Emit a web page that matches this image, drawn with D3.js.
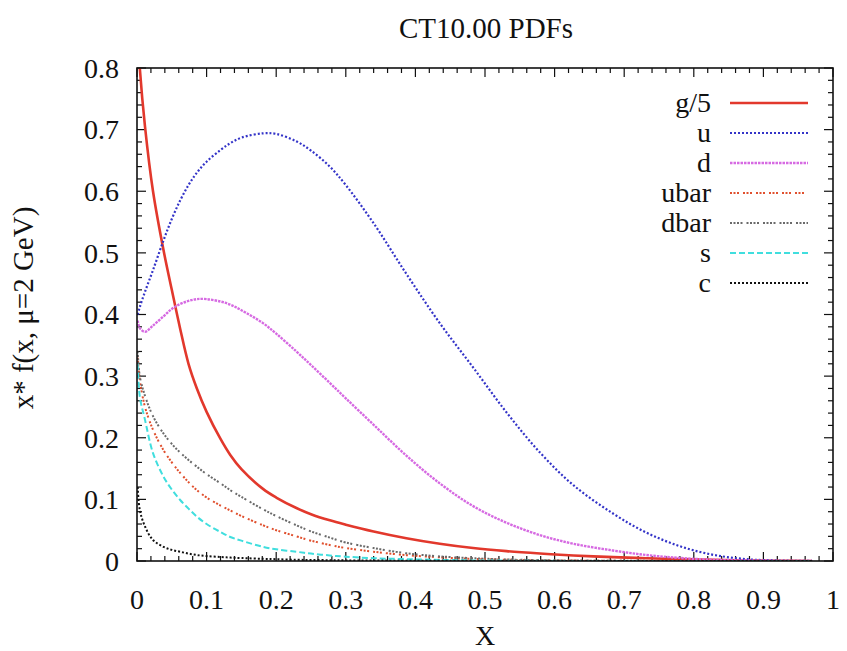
<!DOCTYPE html>
<html>
<head>
<meta charset="utf-8">
<script src="https://cdn.jsdelivr.net/npm/d3@7"></script>
<style>
  body { margin: 0; background: #fff; }
  text { font-family: "Liberation Serif", "DejaVu Serif", serif; fill: #111; }
</style>
</head>
<body>
<div id="chart"></div>
<script>
var xGrid = [0.001, 0.004, 0.0115, 0.023, 0.038, 0.05, 0.062, 0.074, 0.086, 0.1, 0.12, 0.134, 0.15, 0.181, 0.2, 0.229, 0.25, 0.277, 0.3, 0.34, 0.387, 0.435, 0.483, 0.531, 0.579, 0.627, 0.684, 0.732, 0.78, 0.828, 0.876, 0.92, 0.97];

var gluon5 = [0.86, 0.80, 0.705, 0.60, 0.505, 0.44, 0.377, 0.320, 0.280, 0.242, 0.198, 0.172, 0.149, 0.117, 0.103, 0.086, 0.076, 0.066, 0.059, 0.048, 0.037, 0.028, 0.021, 0.016, 0.0122, 0.009, 0.0063, 0.0045, 0.003, 0.0018, 0.0009, 0.0004, 0.0001];
var uQuark = [0.40, 0.412, 0.437, 0.472, 0.520, 0.555, 0.585, 0.610, 0.630, 0.648, 0.667, 0.678, 0.687, 0.694, 0.693, 0.681, 0.666, 0.640, 0.610, 0.548, 0.466, 0.386, 0.314, 0.241, 0.176, 0.123, 0.077, 0.046, 0.024, 0.010, 0.003, 0.0008, 0.0001];
var dQuark = [0.39, 0.378, 0.372, 0.382, 0.397, 0.409, 0.417, 0.422, 0.425, 0.425, 0.421, 0.416, 0.407, 0.386, 0.369, 0.340, 0.318, 0.289, 0.264, 0.221, 0.171, 0.126, 0.089, 0.062, 0.042, 0.028, 0.017, 0.0097, 0.005, 0.002, 0.0008, 0.0002, 0];
var ubar = [0.33, 0.294, 0.25, 0.213, 0.18, 0.16, 0.143, 0.128, 0.115, 0.103, 0.09, 0.082, 0.073, 0.058, 0.050, 0.040, 0.033, 0.026, 0.021, 0.015, 0.0095, 0.006, 0.0035, 0.002, 0.0012, 0.0007, 0.0003, 0.0001, 0, 0, 0, 0, 0];
var dbar = [0.34, 0.30, 0.268, 0.235, 0.207, 0.19, 0.176, 0.164, 0.153, 0.141, 0.126, 0.115, 0.104, 0.084, 0.073, 0.058, 0.048, 0.038, 0.030, 0.021, 0.0125, 0.0075, 0.0045, 0.0025, 0.0014, 0.0008, 0.0004, 0.0002, 0.0001, 0, 0, 0, 0];
var sQuark = [0.32, 0.267, 0.229, 0.175, 0.137, 0.116, 0.099, 0.085, 0.072, 0.06, 0.047, 0.039, 0.033, 0.023, 0.019, 0.015, 0.012, 0.009, 0.007, 0.0045, 0.003, 0.0018, 0.001, 0.0006, 0.0003, 0.0001, 0, 0, 0, 0, 0, 0, 0];
var cQuark = [0.12, 0.083, 0.056, 0.034, 0.023, 0.018, 0.015, 0.012, 0.0097, 0.008, 0.0065, 0.0055, 0.0048, 0.0035, 0.003, 0.002, 0.0017, 0.0013, 0.001, 0.0007, 0.0005, 0.0003, 0.0002, 0.0001, 0.0001, 0, 0, 0, 0, 0, 0, 0, 0];

var seriesNames = ["g/5", "u", "d", "ubar", "dbar", "s", "c"];
var seriesValues = [gluon5, uQuark, dQuark, ubar, dbar, sQuark, cQuark];
var xTicks = [0, 0.1, 0.2, 0.3, 0.4, 0.5, 0.6, 0.7, 0.8, 0.9, 1];
var yTicks = [0, 0.1, 0.2, 0.3, 0.4, 0.5, 0.6, 0.7, 0.8];

// line looks, one per series
var styles = [
    { color: "#e2382c", width: 2.6, dash: null },
    { color: "#3434c8", width: 2.2, dash: "2,2" },
    { color: "#d66ae2", width: 2.4, dash: "2.5,1" },
    { color: "#e0502e", width: 2,   dash: "2,1.5,2,1.5,2,4" },
    { color: "#6a6a6a", width: 2,   dash: "2,1.5,2,1.5,2,1.5,2,4" },
    { color: "#40dede", width: 2,   dash: "6,3" },
    { color: "#111111", width: 2,   dash: "2,2" }
];

function main() {
    var W = 847, H = 651;
    var left = 137, right = 833, top = 68, bottom = 561;

    var x = d3.scaleLinear().domain([0, 1]).range([left, right]);
    var y = d3.scaleLinear().domain([0, 0.8]).range([bottom, top]);

    var svg = d3.select("#chart").append("svg")
        .attr("width", W).attr("height", H);

    svg.append("defs").append("clipPath").attr("id", "clip")
        .append("rect").attr("x", left).attr("y", top)
        .attr("width", right - left).attr("height", bottom - top);

    // title and axis labels
    svg.append("text").attr("x", 486).attr("y", 38)
        .attr("text-anchor", "middle").style("font-size", "29px")
        .text("CT10.00 PDFs");
    svg.append("text").attr("x", 485).attr("y", 645)
        .attr("text-anchor", "middle").style("font-size", "28px")
        .text("X");
    svg.append("text")
        .attr("transform", "translate(33,308) rotate(-90)")
        .attr("text-anchor", "middle").style("font-size", "29px")
        .text("x* f(x, \u03bc=2 GeV)");

    // ticks on all four sides, pointing inward
    var xMinor = d3.range(0, 1.0001, 0.02);
    var yMinor = d3.range(0, 0.8001, 0.02);
    var tg = svg.append("g").attr("stroke", "#111").attr("stroke-width", 1.2);
    xMinor.forEach(function(v, i) {
        var len = (i % 5 === 0) ? 9 : 5;
        tg.append("line").attr("x1", x(v)).attr("x2", x(v)).attr("y1", bottom).attr("y2", bottom - len);
        tg.append("line").attr("x1", x(v)).attr("x2", x(v)).attr("y1", top).attr("y2", top + len);
    });
    yMinor.forEach(function(v, i) {
        var len = (i % 5 === 0) ? 9 : 5;
        tg.append("line").attr("x1", left).attr("x2", left + len).attr("y1", y(v)).attr("y2", y(v));
        tg.append("line").attr("x1", right).attr("x2", right - len).attr("y1", y(v)).attr("y2", y(v));
    });

    svg.append("g").selectAll("text").data(xTicks).enter().append("text")
        .attr("x", function(d) { return x(d); })
        .attr("y", 609)
        .attr("text-anchor", "middle").style("font-size", "28px")
        .text(function(d) { return d3.format("~g")(d); });
    svg.append("g").selectAll("text").data(yTicks).enter().append("text")
        .attr("x", 119)
        .attr("y", function(d) { return y(d); })
        .attr("dy", "0.35em")
        .attr("text-anchor", "end").style("font-size", "28px")
        .text(function(d) { return d3.format("~g")(d); });

    // curves
    var line = d3.line()
        .x(function(d) { return x(d[0]); })
        .y(function(d) { return y(d[1]); })
        .curve(d3.curveCatmullRom.alpha(0.5));
    var cg = svg.append("g").attr("clip-path", "url(#clip)");
    seriesValues.forEach(function(vals, i) {
        var pts = xGrid.map(function(xv, j) { return [xv, vals[j]]; });
        var st = styles[i];
        cg.append("path").datum(pts)
            .attr("d", line)
            .attr("fill", "none")
            .attr("stroke", st.color)
            .attr("stroke-width", st.width)
            .attr("stroke-dasharray", st.dash);
    });

    // legend
    var lg = svg.append("g");
    seriesNames.forEach(function(name, i) {
        var ly = 103 + i * 30;
        var st = styles[i];
        lg.append("text").attr("x", 711).attr("y", ly).attr("dy", "0.33em")
            .attr("text-anchor", "end").style("font-size", "28px").text(name);
        lg.append("line").attr("x1", 730).attr("x2", 808).attr("y1", ly).attr("y2", ly)
            .attr("stroke", st.color).attr("stroke-width", st.width)
            .attr("stroke-dasharray", st.dash);
    });

    // frame
    svg.append("rect").attr("x", left).attr("y", top)
        .attr("width", right - left).attr("height", bottom - top)
        .attr("fill", "none").attr("stroke", "#111").attr("stroke-width", 1.6);
}

main();
</script>
</body>
</html>
